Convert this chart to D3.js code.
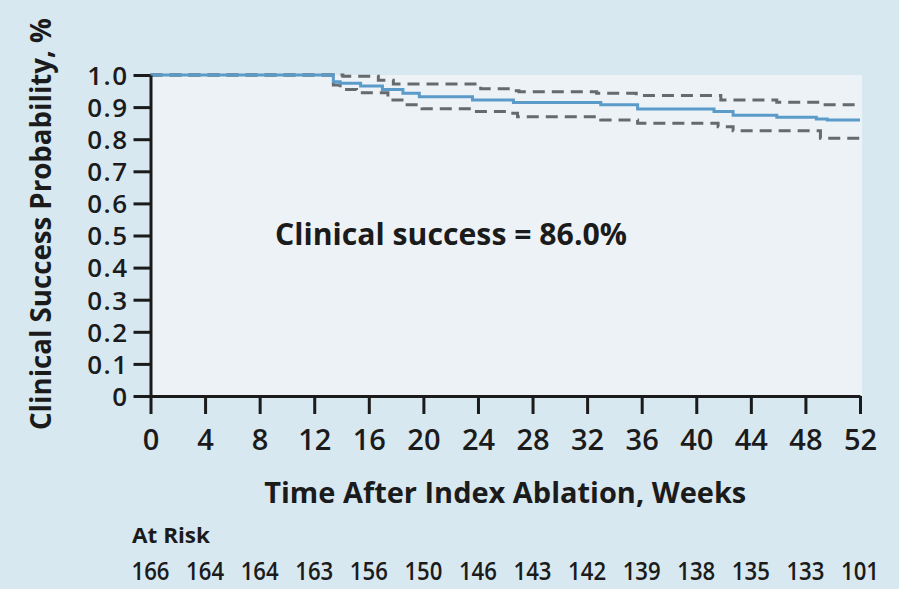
<!DOCTYPE html>
<html>
<head>
<meta charset="utf-8">
<script src="https://cdn.jsdelivr.net/npm/d3@7"></script>
<style>
  html, body { margin: 0; padding: 0; background: #d8e8f0; }
  svg { display: block; }
  text { font-family: "Open Sans", "Noto Sans", sans-serif; fill: #1b1b1b; }
</style>
</head>
<body>
<svg id="chart" width="899" height="589"></svg>
<script>
// ---------- data ----------
const xTicks = [0, 4, 8, 12, 16, 20, 24, 28, 32, 36, 40, 44, 48, 52];
const yTicks = [0, 0.1, 0.2, 0.3, 0.4, 0.5, 0.6, 0.7, 0.8, 0.9, 1.0];
const atRisk = [166, 164, 164, 163, 156, 150, 146, 143, 142, 139, 138, 135, 133, 101];

// Kaplan-Meier estimate: [week, probability]
const kmWeeks = [0, 13.4, 13.9, 15.4, 17.0, 18.5, 19.7, 23.6, 26.6, 33.0, 35.7, 41.3, 42.7, 45.9, 48.8, 49.6, 52];
const kmValues = [1.0, 0.979, 0.974, 0.966, 0.955, 0.943, 0.932, 0.922, 0.914, 0.907, 0.894, 0.886, 0.875, 0.868, 0.863, 0.860, 0.860];

// upper confidence bound
const upperWeeks = [0, 14.1, 16.7, 17.8, 24.2, 26.4, 27.0, 32.7, 35.6, 41.8, 45.9, 49.1, 52];
const upperValues = [1.0, 0.996, 0.984, 0.972, 0.957, 0.951, 0.948, 0.943, 0.936, 0.922, 0.915, 0.907, 0.907];

// lower confidence bound
const lowerWeeks = [0, 13.4, 13.9, 15.1, 17.4, 18.6, 19.9, 23.6, 26.1, 26.9, 33.0, 35.7, 41.6, 42.7, 49.1, 52];
const lowerValues = [1.0, 0.969, 0.955, 0.945, 0.922, 0.907, 0.895, 0.886, 0.881, 0.870, 0.860, 0.850, 0.839, 0.826, 0.803, 0.803];

const annotation = "Clinical success = 86.0%";
const yTitle = "Clinical Success Probability, %";
const xTitle = "Time After Index Ablation, Weeks";
const riskTitle = "At Risk";

// ---------- layout ----------
const svg = d3.select("#chart");
const plotLeft = 150.5, plotRight = 860, plotTop = 75, plotBottom = 396;

const x = d3.scaleLinear().domain([0, 52]).range([plotLeft, plotRight]);
const y = d3.scaleLinear().domain([0, 1]).range([plotBottom, plotTop]);

svg.append("rect").attr("width", 899).attr("height", 589).attr("fill", "#d8e8f0");
svg.append("rect")
  .attr("x", plotLeft).attr("y", plotTop)
  .attr("width", 862 - plotLeft).attr("height", plotBottom - plotTop)
  .attr("fill", "#edf2f6");

const zip = (a, b) => a.map((d, i) => [d, b[i]]);
const line = d3.line().x(d => x(d[0])).y(d => y(d[1])).curve(d3.curveStepAfter);

// CI lines
[zip(upperWeeks, upperValues), zip(lowerWeeks, lowerValues)].forEach(data => {
  svg.append("path")
    .datum(data)
    .attr("d", line)
    .attr("fill", "none")
    .attr("stroke", "#666a6e")
    .attr("stroke-width", 3)
    .attr("stroke-dasharray", "12,7");
});

// KM line
svg.append("path")
  .datum(zip(kmWeeks, kmValues))
  .attr("d", line)
  .attr("fill", "none")
  .attr("stroke", "#5b9bca")
  .attr("stroke-width", 3);

// axes
const yAxis = d3.axisLeft(y)
  .tickValues(yTicks)
  .tickFormat(d => d === 0 ? "0" : d3.format(".1f")(d))
  .tickSize(17).tickSizeOuter(0).tickPadding(5);
const gy = svg.append("g").attr("transform", `translate(${plotLeft},0)`).call(yAxis);

const xAxis = d3.axisBottom(x)
  .tickValues(xTicks)
  .tickFormat(d3.format("d"))
  .tickSize(18).tickSizeOuter(0).tickPadding(15);
const gx = svg.append("g").attr("transform", `translate(0,${plotBottom})`).call(xAxis);

[gx, gy].forEach(g => {
  g.selectAll("path.domain").attr("stroke", "#1b1b1b").attr("stroke-width", 3);
  g.selectAll(".tick line").attr("stroke", "#1b1b1b").attr("stroke-width", 3);
  g.selectAll(".tick text").attr("fill", "#1b1b1b").attr("font-family", "Open Sans").attr("font-weight", 600);
});
gy.selectAll(".tick text").attr("font-size", 26).attr("letter-spacing", 1.5).attr("dy", "0.36em");
gx.selectAll(".tick text").attr("font-size", 29);

// y title
svg.append("text")
  .attr("transform", "translate(51,224) rotate(-90)")
  .attr("text-anchor", "middle")
  .attr("font-size", 29).attr("font-weight", 700)
  .attr("textLength", 412).attr("lengthAdjust", "spacingAndGlyphs")
  .text(yTitle);

// x title
svg.append("text")
  .attr("x", (plotLeft + plotRight) / 2).attr("y", 503)
  .attr("text-anchor", "middle")
  .attr("font-size", 28).attr("font-weight", 700)
  .attr("textLength", 482).attr("lengthAdjust", "spacingAndGlyphs")
  .text(xTitle);

// annotation
svg.append("text")
  .attr("x", 275).attr("y", 245)
  .attr("font-size", 30).attr("font-weight", 700)
  .attr("textLength", 352).attr("lengthAdjust", "spacingAndGlyphs")
  .text(annotation);

// at risk
svg.append("text")
  .attr("x", 132).attr("y", 543)
  .attr("font-size", 21).attr("font-weight", 700)
  .attr("textLength", 78).attr("lengthAdjust", "spacingAndGlyphs")
  .text(riskTitle);

svg.append("g").selectAll("text")
  .data(atRisk)
  .join("text")
  .attr("x", (d, i) => x(xTicks[i]))
  .attr("y", 580)
  .attr("text-anchor", "middle")
  .attr("font-size", 25)
  .attr("font-weight", 600)
  .attr("textLength", 38).attr("lengthAdjust", "spacingAndGlyphs")
  .text(d => d);
</script>
</body>
</html>
